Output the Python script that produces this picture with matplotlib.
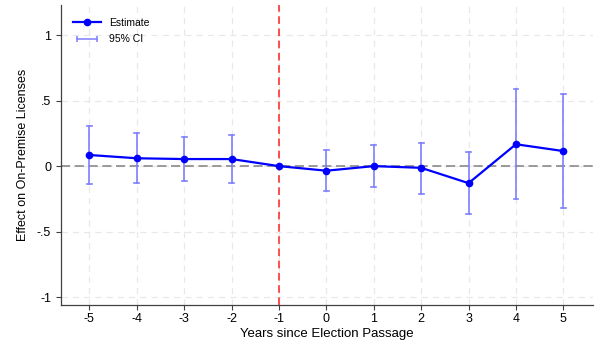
import matplotlib
matplotlib.use("Agg")
from matplotlib import pyplot
from matplotlib.lines import Line2D
from matplotlib.legend_handler import HandlerLine2D

pyplot.rcParams["font.family"] = ["Liberation Sans", "DejaVu Sans"]

years = [-5, -4, -3, -2, -1, 0, 1, 2, 3, 4, 5]
estimate = [0.085, 0.060, 0.054, 0.054, 0.0, -0.035, 0.0, -0.013, -0.130, 0.167, 0.115]
ci_low = [-0.135, -0.130, -0.110, -0.130, 0.0, -0.190, -0.160, -0.210, -0.367, -0.250, -0.320]
ci_high = [0.310, 0.255, 0.225, 0.240, 0.0, 0.120, 0.160, 0.180, 0.107, 0.587, 0.550]
y_ticks = [-1, -0.5, 0, 0.5, 1]
y_tick_labels = ["-1", "-.5", "0", ".5", "1"]

BLUE = "#0000ff"
CI_BLUE = "#7f7fff"

figure = pyplot.figure(figsize=(5.96, 3.45), dpi=100)
axis = figure.add_axes([0.1023, 0.116, 0.893, 0.8695])

# confidence intervals (skip the reference year)
for x, lo, hi in zip(years, ci_low, ci_high):
    if lo == hi:
        continue
    axis.plot([x, x], [lo, hi], color=CI_BLUE, linewidth=1.2, zorder=3)
    axis.plot([x - 0.05, x + 0.05], [lo, lo], color=CI_BLUE, linewidth=1.2, zorder=3)
    axis.plot([x - 0.05, x + 0.05], [hi, hi], color=CI_BLUE, linewidth=1.2, zorder=3)

axis.plot(years, estimate, color=BLUE, linewidth=1.6, marker="o", markersize=4.5, zorder=4)

axis.axhline(0, color="#808080", linestyle=(0, (6, 3)), linewidth=1.1, zorder=2)
axis.axvline(-1, color="#ff2020", linestyle=(0, (5, 3)), linewidth=1.1, zorder=2)

axis.set_xlim(-5.6, 5.63)
axis.set_ylim(-1.06, 1.23)
axis.set_xticks(years, [str(y) for y in years])
axis.set_yticks(y_ticks, y_tick_labels)
axis.tick_params(labelsize=9, color="#404040", length=3.5, width=0.8)
axis.tick_params(axis="x", pad=2.5)
axis.grid(True, color="#e8e8e8", linestyle=(0, (5, 4)), linewidth=0.9, zorder=0)
axis.set_axisbelow(True)

for side in ["top", "right"]:
    axis.spines[side].set_visible(False)
for side in ["left", "bottom"]:
    axis.spines[side].set_color("#404040")
    axis.spines[side].set_linewidth(0.9)

axis.set_xlabel("Years since Election Passage", fontsize=9.5, labelpad=2)
axis.set_ylabel("Effect on On-Premise Licenses", fontsize=9, labelpad=6)

est_handle = Line2D([], [], color=BLUE, linewidth=1.6, marker="o", markersize=4.5)
ci_handle = Line2D([], [], color=CI_BLUE, linewidth=1.1, marker="|", markersize=4.5, markeredgewidth=1.1)
axis.legend(
    [est_handle, ci_handle],
    ["Estimate", "95% CI"],
    loc="upper left",
    frameon=False,
    fontsize=7.5,
    handlelength=2.6,
    borderaxespad=0.8,
    labelspacing=0.65,
    handler_map={ci_handle: HandlerLine2D(numpoints=2)},
)

figure.savefig("out.png", dpi=100)
